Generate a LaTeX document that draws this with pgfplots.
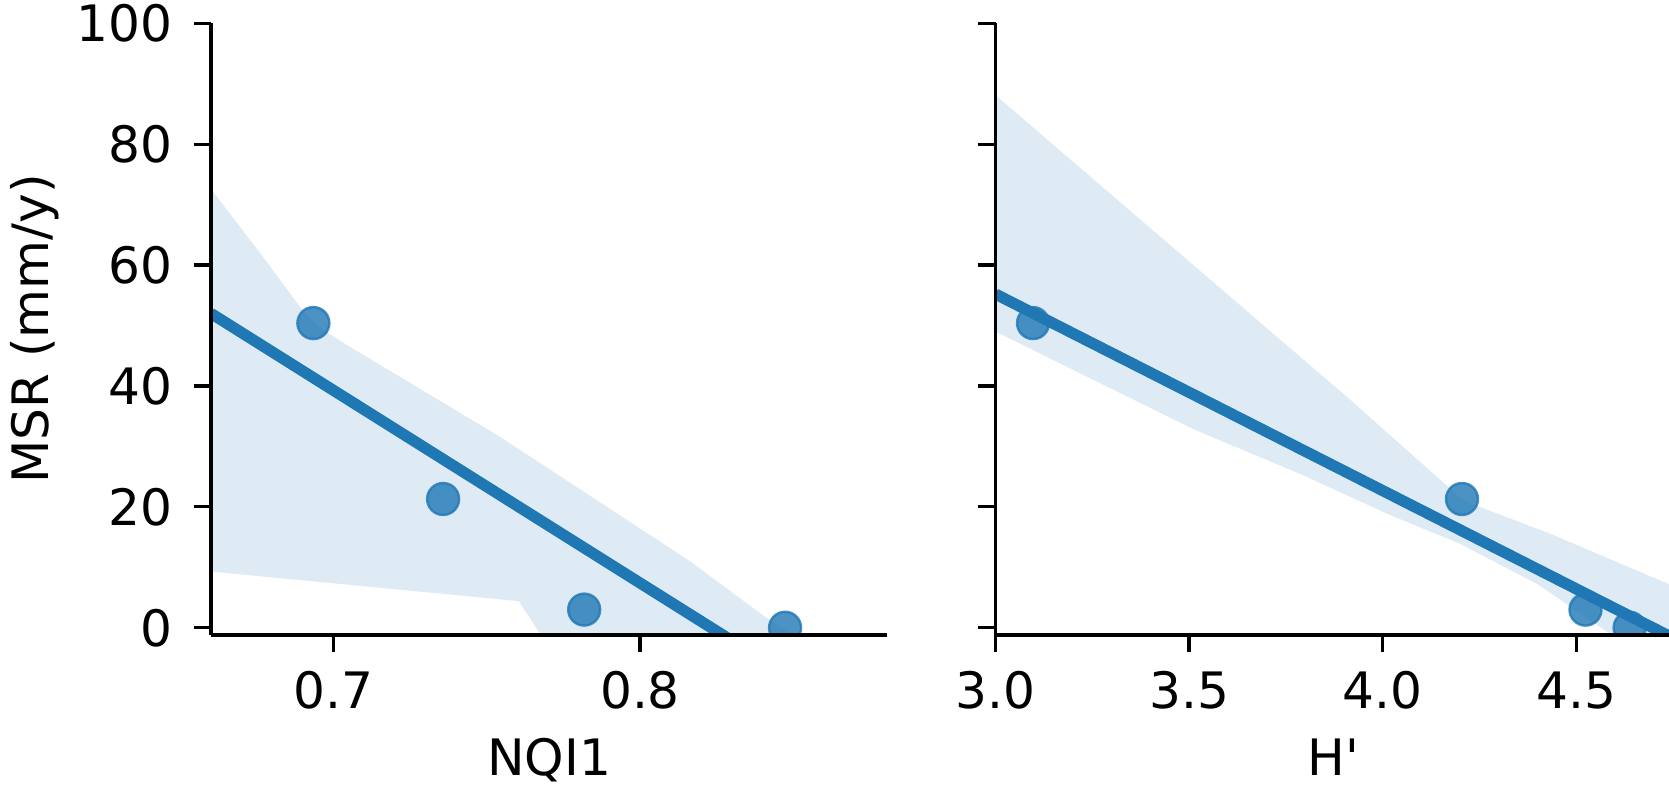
\documentclass[border=0pt]{standalone}
\usepackage{fontspec}
\setmainfont{DejaVu Sans}
\newfontfamily\rawfont{DejaVu Sans}
\usepackage{pgfplots}
\pgfplotsset{compat=1.18}
\definecolor{cblue}{RGB}{31,119,180}
\begin{document}
\begin{tikzpicture}
\useasboundingbox (0,0) rectangle (417.25pt,197.25pt);
\pgfplotsset{
 common/.style={
  scale only axis, width=169.075pt, height=152.925pt, anchor=south west,
  axis lines=left, axis line style={-, line width=0.8pt, black},
  axis on top,
  tick align=outside, tick pos=left, major tick length=4.3pt,
  tick style={black, line width=0.8pt},
  ymin=-1.2, ymax=100, ytick={0,20,40,60,80,100},
  clip marker paths=true,
  font=\fontsize{12.55pt}{15pt}\selectfont,
  xticklabel style={anchor=base, inner sep=0pt, yshift=-14.0pt},
  yticklabel style={anchor=east, inner sep=0pt, xshift=-5.05pt},
  xlabel style={at={(axis description cs:0.5,-0.2297)}, anchor=base, inner sep=0pt},
 },
 pts/.style={only marks, mark=*, mark size=4.0pt,
  mark options={fill=cblue, draw=cblue, fill opacity=0.8, draw opacity=0.8, line width=0.6pt}},
 band/.style={fill=cblue, fill opacity=0.15, draw=none},
 reg/.style={cblue, line width=2.8pt, no marks},
}
% left panel
\begin{axis}[common, at={(52.75pt,38.5pt)},
  xmin=0.66012, xmax=0.88063,
  xtick={0.7,0.8}, xticklabels={0.7,0.8},
  yticklabels={0,20,40,60,80,100},
  xlabel={NQI1}, ylabel={MSR (mm/y)},
  ylabel style={at={(axis description cs:-0.2403,0.5)}, anchor=base, inner sep=0pt}]
\addplot[pts] coordinates {(0.6935,50.4) (0.7358,21.3) (0.7818,3.0) (0.8473,0.0)};
\addplot[band] coordinates {
 (0.6601,72.6) (0.6761,62.0) (0.6900,52.5) (0.6960,49.5) (0.7050,46.6)
 (0.7543,31.6) (0.8163,11.0) (0.8413,1.6) (0.8550,-3)
 (0.7700,-3) (0.7605,4.4) (0.6601,9.3)} -- cycle;
\addplot[reg] coordinates {(0.66012,52.0) (0.88063,-18.3)};
\end{axis}
% right panel
\begin{axis}[common, at={(248.875pt,38.5pt)},
  xmin=3.0, xmax=4.747,
  xtick={3.0,3.5,4.0,4.5}, xticklabels={3.0,3.5,4.0,4.5},
  yticklabels={},
  xlabel={{\rawfont H'}}]
\addplot[pts] coordinates {(3.097,50.4) (4.205,21.3) (4.524,3.0) (4.638,0.0)};
\addplot[band] coordinates {
 (3.0,88.1) (3.52,59.5) (3.92,37.5) (4.15,24.4) (4.20,21.5) (4.25,20.0)
 (4.431,15.6) (4.747,7.0) (4.747,-3) (4.63,-3)
 (4.56,0.2) (4.40,7.2) (4.2,13.9) (4.021,18.6) (3.785,25.5) (3.513,32.8) (3.0,49.0)} -- cycle;
\addplot[reg] coordinates {(3.0,55.2) (4.747,-1.6)};
\end{axis}
\end{tikzpicture}
\end{document}
